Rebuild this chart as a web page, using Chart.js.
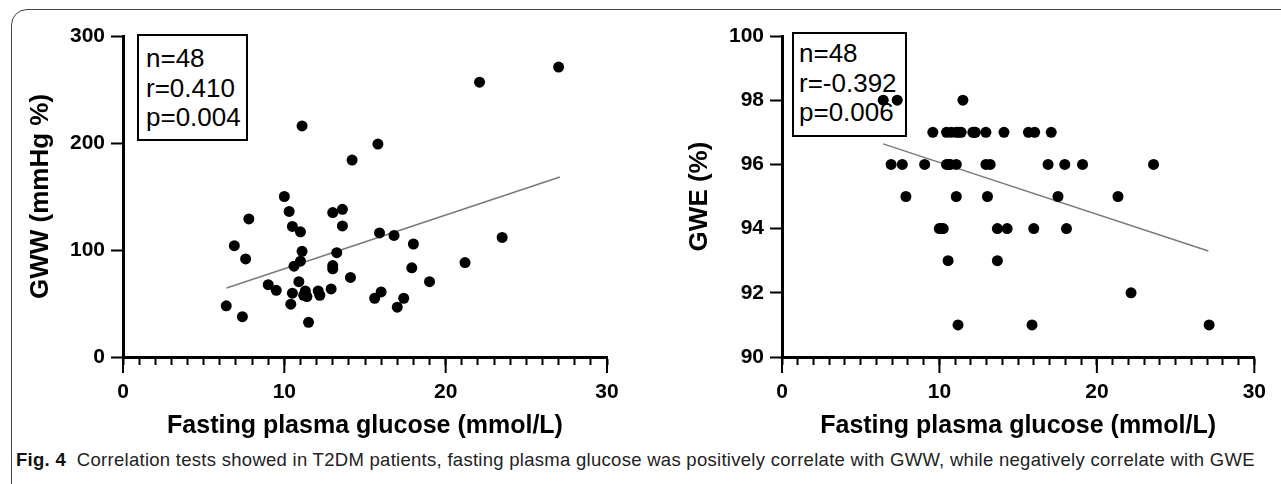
<!DOCTYPE html>
<html>
<head>
<meta charset="utf-8">
<script src="https://cdn.jsdelivr.net/npm/chart.js@4.4.1/dist/chart.umd.min.js"></script>
<style>
  body { margin:0; width:1281px; height:484px; overflow:hidden; background:#fff; position:relative; font-family:"Liberation Sans", Arial, sans-serif; }
  #frame { position:absolute; left:11px; top:9px; width:1400px; height:600px; border:1.5px solid #444; border-radius:16px; z-index:0; }
  .stat { position:absolute; border:2px solid #000; font-size:26px; line-height:29.5px; color:#000; box-sizing:border-box; z-index:1; }
  canvas { position:absolute; top:0; z-index:2; }
  #caption { position:absolute; left:16px; top:449px; font-size:18.5px; letter-spacing:0.28px; color:#222; white-space:nowrap; z-index:3; }
  #caption b { color:#111; }
</style>
</head>
<body>
<div id="frame"></div>
<div class="stat" style="left:137px;top:34px;width:111px;height:107px;padding:8px 0 0 7px;">n=48<br>r=0.410<br>p=0.004</div>
<div class="stat" style="left:792px;top:32px;width:115px;height:105px;padding:5px 0 0 5px;">n=48<br>r=-0.392<br>p=0.006</div>
<canvas id="chGww" width="640" height="445" style="left:0"></canvas>
<canvas id="chGwe" width="641" height="445" style="left:640px"></canvas>
<div id="caption"><b>Fig. 4</b>&nbsp; Correlation tests showed in T2DM patients, fasting plasma glucose was positively correlate with GWW, while negatively correlate with GWE</div>

<script>
// fasting plasma glucose vs GWW (left panel)
var fpgGww = [6.4, 6.9, 7.4, 7.6, 7.8, 9.0, 9.5, 10.0, 10.3, 10.4, 10.5, 10.5, 10.6, 10.9, 11.0, 11.0,
  11.1, 11.1, 11.2, 11.3, 11.4, 11.5, 12.1, 12.2, 12.9, 13.0, 13.0, 13.0, 13.25, 13.6, 13.6, 14.1,
  14.2, 15.6, 15.8, 15.9, 16.0, 16.8, 17.0, 17.4, 17.9, 18.0, 19.0, 21.2, 22.1, 23.5, 27.0, 11.3];
var gwwValues = [47.8, 104, 37.7, 91.7, 129, 67.6, 62.3, 150, 136, 49.4, 122, 59.6, 84.9, 70.4, 89.5, 117,
  98.8, 216, 57.7, 61.7, 56.5, 32.4, 61.7, 57.7, 63.6, 85.5, 82.4, 135, 97.5, 138, 122.5, 74.4,
  184, 54.9, 199, 116, 60.8, 113.6, 46.6, 54.9, 83.3, 105.6, 70.4, 88.3, 256.8, 111.7, 271, 58];

// fasting plasma glucose vs GWE (right panel)
var fpgGwe = [6.43, 7.32, 11.49,
  9.58, 10.45, 10.75, 11.07, 11.38, 12.12, 12.28, 12.95, 14.1, 15.65, 16.05, 17.1,
  6.93, 7.64, 9.06, 10.45, 10.7, 11.07, 12.95, 13.22, 16.9, 17.96, 19.09, 23.6,
  7.87, 11.07, 13.05, 17.53, 21.34,
  9.99, 10.24, 13.68, 14.3, 15.99, 18.07,
  10.55, 13.68,
  22.17,
  11.18, 15.88, 27.13,
  11.2, 10.6, 10.1, 12.2];
var gweValues = [98, 98, 98,
  97, 97, 97, 97, 97, 97, 97, 97, 97, 97, 97, 97,
  96, 96, 96, 96, 96, 96, 96, 96, 96, 96, 96, 96,
  95, 95, 95, 95, 95,
  94, 94, 94, 94, 94, 94,
  93, 93,
  92,
  91, 91, 91,
  97, 96, 94, 97];

// fitted lines
var trendX = [6.42, 27.08];
var trendGww = [64.5, 168.2];
var trendGwe = [96.64, 93.30];

var xMajor = [0, 10, 20, 30];

Chart.defaults.font.family = '"Liberation Sans", Arial, sans-serif';
Chart.defaults.color = '#000';

// longer ticks at 0/10/20/30
var majorTicks = {
  id: 'majorTicks',
  afterDraw: function(chart) {
    var ctx = chart.ctx, x = chart.scales.x, b = chart.chartArea.bottom;
    ctx.save();
    ctx.strokeStyle = '#000';
    ctx.lineWidth = 2;
    xMajor.forEach(function(v) {
      var px = x.getPixelForValue(v);
      ctx.beginPath();
      ctx.moveTo(px, b);
      ctx.lineTo(px, b + 16);
      ctx.stroke();
    });
    ctx.restore();
  }
};

function makeChart(id, xs, ys, trend, y, padRight) {
  var canvas = document.getElementById(id);
  // software canvas
  canvas.getContext('2d', {willReadFrequently: true});
  new Chart(canvas, {
    type: 'scatter',
    data: {
      datasets: [
        {
          data: xs.map(function(v, i) { return {x: v, y: ys[i]}; }),
          pointRadius: 5.5,
          pointHoverRadius: 5.5,
          backgroundColor: '#000',
          borderWidth: 0,
          order: 1
        },
        {
          data: trendX.map(function(v, i) { return {x: v, y: trend[i]}; }),
          showLine: true,
          pointRadius: 0,
          borderColor: '#7a7a7a',
          borderWidth: 1.5,
          order: 2
        }
      ]
    },
    options: {
      responsive: false,
      animation: false,
      devicePixelRatio: 1,
      events: [],
      layout: {padding: {left: 0, right: padRight, top: 36, bottom: 0}},
      plugins: {legend: {display: false}, tooltip: {enabled: false}},
      scales: {
        x: {
          type: 'linear', min: 0, max: 30,
          ticks: {
            stepSize: 1, autoSkip: false, maxRotation: 0, padding: 15,
            font: {size: 21, weight: 'bold'},
            callback: function(v) { return v % 10 === 0 ? String(v) : ''; }
          },
          grid: {drawOnChartArea: false, tickLength: 8, tickWidth: 2, tickColor: '#000'},
          border: {width: 3, color: '#000'},
          title: {display: true, text: 'Fasting plasma glucose (mmol/L)', font: {size: 25, weight: 'bold'}, padding: {top: 0, bottom: 4}},
          afterFit: function(s) { s.height = 88; }
        },
        y: {
          min: y.min, max: y.max,
          ticks: {stepSize: y.step, padding: 6, font: {size: 21, weight: 'bold'}},
          grid: {drawOnChartArea: false, tickLength: 12, tickWidth: 2, tickColor: '#000'},
          border: {width: 3, color: '#000'},
          title: {display: true, text: y.title, font: {size: 26, weight: 'bold'}, padding: {top: y.titlePad, bottom: 0}},
          afterFit: function(s) { s.width = y.width; }
        }
      }
    },
    plugins: [majorTicks]
  });
}

makeChart('chGww', fpgGww, gwwValues, trendGww,
  {min: 0, max: 300, step: 100, title: 'GWW (mmHg %)', titlePad: 25, width: 123}, 33);
makeChart('chGwe', fpgGwe, gweValues, trendGwe,
  {min: 90, max: 100, step: 2, title: 'GWE (%)', titlePad: 44, width: 142}, 18);
</script>
</body>
</html>
